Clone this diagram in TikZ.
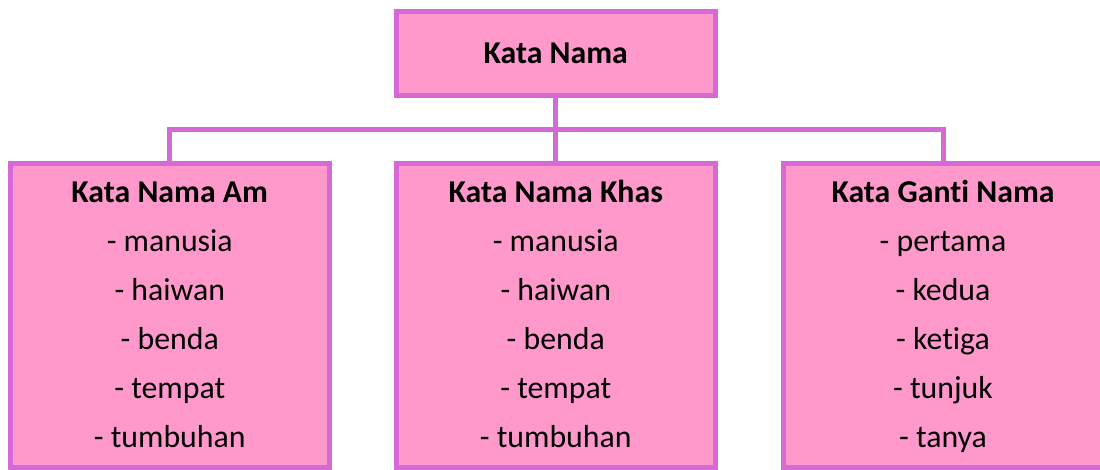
\documentclass[tikz,border=0pt]{standalone}
\usepackage{fontspec}
\setmainfont{Carlito}[Ligatures={NoCommon}]
\definecolor{boxfill}{HTML}{FF99CC}
\definecolor{boxline}{HTML}{D56AD6}
\begin{document}
\begin{tikzpicture}[x=1pt,y=-1pt,
  box/.style={draw=boxline, fill=boxfill, line width=5pt, rectangle, inner sep=0pt, outer sep=0pt,
    minimum width=319.5pt, align=center, font=\fontsize{31.8}{49}\selectfont},
  conn/.style={draw=boxline, line width=5pt}]
\useasboundingbox (0,0) rectangle (1100,469);
\clip (0,0) rectangle (1100,469);
\node[box, minimum height=84.5pt] (top) at (555.75,53.25) {\textbf{Kata Nama}};
\node[box, minimum height=304pt] (am) at (169.75,315)
  {\strut\textbf{Kata Nama Am}\\\strut- manusia\\\strut- haiwan\\\strut- benda\\\strut- tempat\\\strut- tumbuhan\strut};
\node[box, minimum height=304pt] (khas) at (555.75,315)
  {\strut\textbf{Kata Nama Khas}\\\strut- manusia\\\strut- haiwan\\\strut- benda\\\strut- tempat\\\strut- tumbuhan\strut};
\node[box, minimum height=304pt] (ganti) at (943,315)
  {\strut\textbf{Kata Ganti Nama}\\\strut- pertama\\\strut- kedua\\\strut- ketiga\\\strut- tunjuk\\\strut- tanya\strut};
\coordinate (j) at (555.75,129);
\draw[conn] (top.south) -- (j) -- (khas.north);
\draw[conn] (am.north) |- (j) -| (ganti.north);
\end{tikzpicture}
\end{document}
